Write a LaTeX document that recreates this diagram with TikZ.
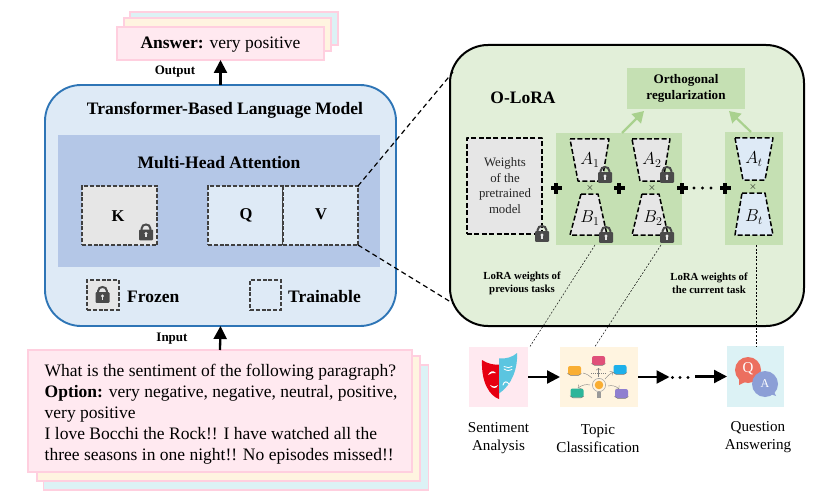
\documentclass[tikz,border=0pt]{standalone}
\usepackage{fontspec}
\setmainfont{Liberation Serif}
\usetikzlibrary{arrows.meta}
\definecolor{pinkf}{HTML}{FFE9F0}
\definecolor{pinkd}{HTML}{FFCFDF}
\definecolor{creamf}{HTML}{FFF4E0}
\definecolor{tealf}{HTML}{DCF2F5}
\definecolor{blueb}{HTML}{DEEAF6}
\definecolor{bluel}{HTML}{2E75B6}
\definecolor{bluem}{HTML}{B4C7E7}
\definecolor{greyf}{HTML}{E6E6E6}
\definecolor{darkd}{HTML}{404040}
\definecolor{greenb}{HTML}{E2EFD9}
\definecolor{greenm}{HTML}{C5E0B3}
\definecolor{greena}{HTML}{A9D18E}
\definecolor{lockc}{HTML}{4A4A4A}
\definecolor{maskr}{HTML}{E60012}
\definecolor{maskb}{HTML}{5BC5E0}
\definecolor{qred}{HTML}{EC6F5F}
\definecolor{qblue}{HTML}{8C9FD6}
\definecolor{bupink}{HTML}{E0507A}
\definecolor{bublue}{HTML}{1EB0EA}
\definecolor{buorange}{HTML}{F9AE33}
\definecolor{buteal}{HTML}{2DB59A}
\definecolor{bupurple}{HTML}{8F7FD0}
\tikzset{
  x=1pt,y=-1pt,
  box/.style={inner sep=0pt,outer sep=0pt,anchor=north west},
  paper/.style={draw=pinkd,line width=1.4pt},
  dbox/.style={draw=darkd,line width=1.5pt,dash pattern=on 4pt off 1.8pt},
  kbox/.style={draw=black,line width=1.5pt,dash pattern=on 5pt off 2.4pt,line join=round},
  zoomline/.style={draw=black,line width=1.2pt,dash pattern=on 5pt off 3.5pt},
  thinline/.style={draw=black,line width=0.45pt,dash pattern=on 2pt off 1.6pt},
  flow/.style={draw=black,line width=2.3pt,-{Triangle[length=13pt,width=13pt]}},
  upflow/.style={draw=black,line width=2.3pt,-{Triangle[length=13pt,width=13pt]}},
  greenflow/.style={draw=greena,line width=2.2pt,-{Triangle[length=11pt,width=13pt]}},
  lbl/.style={inner sep=0pt,font=\fontsize{13pt}{14pt}\selectfont\bfseries},
  small/.style={inner sep=0pt,align=center,font=\fontsize{10.8pt}{13.2pt}\selectfont\bfseries},
  title/.style={inner sep=0pt,font=\fontsize{17.5pt}{20pt}\selectfont\bfseries},
  key/.style={inner sep=0pt,font=\fontsize{16.5pt}{18pt}\selectfont\bfseries},
  task/.style={inner sep=0pt,align=center,font=\fontsize{15.1pt}{18pt}\selectfont},
  weights/.style={inner sep=0pt,align=center,font=\fontsize{12.8pt}{15.6pt}\selectfont,text=black!85},
  mathlbl/.style={inner sep=0pt,font=\fontsize{17pt}{18pt}\selectfont},
  timeslbl/.style={inner sep=0pt,font=\fontsize{10pt}{10pt}\selectfont},
  lock/.pic={
    \fill[lockc,rounded corners=1pt] (-7,-2.5) rectangle (7,8.3);
    \draw[lockc,line width=2pt] (-4.4,-2) -- (-4.4,-3.5) .. controls (-4.4,-8.8) and (4.4,-8.8) .. (4.4,-3.5) -- (4.4,-2);
    \fill[greyf] (0,1.5) circle (1.7);
    \fill[greyf] (-0.8,1.5) rectangle (0.8,5);
  },
  bubble/.pic={
    \fill[rounded corners=2pt,pic actions] (-6.5,-4.5) rectangle (6.5,4.5);
    \draw[black!55,line width=0.4pt,rounded corners=2pt] (-6.5,3.5) -- (-6,4.9) -- (6,4.9) -- (6.9,3);
  },
}
\begin{document}
\begin{tikzpicture}
\useasboundingbox (0,0) rectangle (830,500);
% output stack
\node[box,paper,fill=tealf,minimum width=208pt,minimum height=33pt] (ansc) at (130,12) {};
\node[box,paper,fill=creamf,minimum width=207pt,minimum height=33pt] (ansb) at (124,18) {};
\node[box,paper,fill=pinkf,minimum width=207pt,minimum height=33pt] (ansa) at (117,27) {};
\node[inner sep=0pt,font=\fontsize{17.5pt}{20pt}\selectfont] (anstext) at (220.5,45) {\textbf{Answer:} very positive};
% model
\node[box,draw=bluel,line width=1.9pt,fill=blueb,rounded corners=36pt,minimum width=351pt,minimum height=241pt] (model) at (45,85) {};
\node[title] (modeltitle) at (225,110) {Transformer-Based Language Model};
\node[box,fill=bluem,minimum width=322pt,minimum height=132pt] (mha) at (58,135) {};
\node[title] (mhatitle) at (219,163) {Multi-Head Attention};
\node[box,dbox,fill=greyf,minimum width=75pt,minimum height=59pt] (K) at (82,186) {};
\node[key] (Kt) at (118,216) {K};
\node[box,dbox,fill=blueb,minimum width=75pt,minimum height=59pt] (Q) at (208,186) {};
\node[box,dbox,fill=blueb,minimum width=75pt,minimum height=59pt] (V) at (283,186) {};
\node[key] (Qt) at (246,215) {Q};
\node[key] (Vt) at (321,214) {V};
\pic at (146,232) {lock};
\node[box,dbox,fill=greyf,minimum width=32pt,minimum height=30pt] (frozenbox) at (87,280) {};
\pic at (102.5,294.5) {lock};
\node[title,anchor=west] (frozen) at (127,297) {Frozen};
\node[box,dbox,minimum width=31pt,minimum height=30pt] (trainbox) at (250,280) {};
\node[title,anchor=west] (trainable) at (288,297) {Trainable};
% flow labels
\node[lbl] (outlbl) at (175,72) {Output};
\node[lbl] (inlbl) at (172,339) {Input};
% input stack
\node[box,paper,fill=tealf,minimum width=385pt,minimum height=125pt] (inc) at (43.5,365) {};
\node[box,paper,fill=creamf,minimum width=383pt,minimum height=125pt] (inb) at (37,356) {};
\node[box,paper,fill=pinkf,minimum width=384pt,minimum height=122pt] (ina) at (28,350) {};
\node[inner sep=0pt,anchor=north west,align=left,font=\fontsize{17.5pt}{21pt}\selectfont] (intext) at (44.5,364) {What is the sentiment of the following paragraph?\\ \textbf{Option:} very negative, negative, neutral, positive,\\ very positive\\ I love Bocchi the Rock!! I have watched all the\\ three seasons in one night!! No episodes missed!!};
\draw[upflow] (model.north) -- (ansa.south);
\draw[upflow] (ina.north) -- (model.south);
% O-LoRA
\node[box,draw=black,line width=2pt,fill=greenb,rounded corners=38pt,minimum width=354pt,minimum height=281pt] (olora) at (450,45) {};
\coordinate (olt) at (453,72);
\coordinate (olb) at (454,304);
\draw[zoomline] (V.north east) -- (olt);
\draw[zoomline] (V.south east) -- (olb);
\node[inner sep=0pt,font=\fontsize{17.5pt}{20pt}\selectfont\bfseries] (oltitle) at (523,98) {O-LoRA};
\node[box,fill=greenm,minimum width=118pt,minimum height=41pt] (orth) at (627,68) {};
\node[inner sep=0pt,align=center,font=\fontsize{13.1pt}{16pt}\selectfont\bfseries] (ortht) at (686,88.5) {Orthogonal\\regularization};
\node[box,fill=greenm,minimum width=126pt,minimum height=112pt] (prev) at (556,133) {};
\node[box,fill=greenm,minimum width=58pt,minimum height=113pt] (curr) at (725,132) {};
\coordinate (ga1) at (622,133);
\coordinate (ga2) at (644,111);
\coordinate (gb1) at (751,132);
\coordinate (gb2) at (729,111);
\draw[greenflow] (ga1) -- (ga2);
\draw[greenflow] (gb1) -- (gb2);
\node[box,kbox,fill=greyf,minimum width=75pt,minimum height=96pt] (pre) at (467,138) {};
\node[weights] (pret) at (505,185.5) {Weights\\of the\\pretrained\\model};
% trapezoids
\draw[kbox,fill=greyf] (570,139) -- (609,139) -- (602,181) -- (578,181) -- cycle;
\draw[kbox,fill=greyf] (581,194) -- (598,194) -- (607,235) -- (570,235) -- cycle;
\draw[kbox,fill=greyf] (632,139) -- (670,139) -- (663,181) -- (640,181) -- cycle;
\draw[kbox,fill=greyf] (642,194) -- (659,194) -- (668,235) -- (632,235) -- cycle;
\draw[kbox,fill=blueb] (735,138) -- (773,138) -- (765,180) -- (743,180) -- cycle;
\draw[kbox,fill=blueb] (742,193) -- (765,193) -- (773,235) -- (735,235) -- cycle;
\node[mathlbl] (a1) at (590,160) {$A_1$};
\node[mathlbl] (b1) at (590,218) {$B_1$};
\node[mathlbl] (a2) at (652,160) {$A_2$};
\node[mathlbl] (b2) at (653,218) {$B_2$};
\node[mathlbl] (at) at (754,159) {$A_t$};
\node[mathlbl] (bt) at (754,217) {$B_t$};
\node[timeslbl] (x1) at (590,188) {$\times$};
\node[timeslbl] (x2) at (652,188) {$\times$};
\node[timeslbl] (x3) at (753,187) {$\times$};
\foreach \px in {556,619,682,725}{
  \fill (\px-5.5,186.2) rectangle (\px+5.5,190);
  \fill (\px-1.9,182.5) rectangle (\px+1.9,193.5);
}
\foreach \px in {694,702.5,711}{\fill (\px,188) circle (1.7);}
\pic at (605,174.5) {lock};
\pic at (667,174.5) {lock};
\pic at (606,234.5) {lock};
\pic at (667,234.5) {lock};
\pic at (542,233.5) {lock};
\node[small] (lw1) at (522,283.5) {LoRA weights of\\previous tasks};
\node[small] (lw2) at (709,283.5) {LoRA weights of\\the current task};
% tasks
\node[box,fill=pinkf,minimum width=59pt,minimum height=60pt] (t1) at (469,347) {};
\node[box,fill=creamf,minimum width=78pt,minimum height=60pt] (t2) at (560,347) {};
\node[box,fill=tealf,minimum width=57pt,minimum height=61pt] (t3) at (727,346) {};
\coordinate (lf1) at (595,245);
\coordinate (lf2) at (661,245);
\coordinate (lf3) at (756,245);
\coordinate (t1c) at (530,346.5);
\coordinate (t2c) at (595,346.5);
\coordinate (t3c) at (756,346);
\draw[thinline] (lf1) -- (t1c);
\draw[thinline] (lf2) -- (t2c);
\draw[thinline] (lf3) -- (t3c);
\coordinate (dl) at (669.5,377);
\coordinate (dr) at (695,376.5);
\draw[flow] (t1.east) -- (t2.west);
\draw[flow] (t2.east) -- (dl);
\foreach \px in {672.5,680,688}{\fill (\px,377.5) circle (1.7);}
\draw[flow] (dr) -- (t3.west);
\node[task] (t1t) at (498.5,438) {Sentiment\\Analysis};
\node[task] (t2t) at (598,438.5) {Topic\\Classification};
\node[task] (t3t) at (758,437) {Question\\Answering};
% masks
\fill[maskr] (482,360) .. controls (488,364) and (494,365) .. (499,364.5) -- (499,399) .. controls (490,396) and (481,383) .. (482,360) -- cycle;
\fill[maskb] (499,358.5) .. controls (506,359) and (513,357) .. (517,353) .. controls (518,368) and (512,385) .. (499,393.5) -- cycle;
\fill[white] (488,375) .. controls (490,371) and (493,370) .. (496,373) .. controls (493,372.5) and (491,373) .. (488,375) -- cycle;
\fill[white] (490,385) .. controls (492,387) and (495,387) .. (498,385) .. controls (497,389) and (492,389) .. (490,385) -- cycle;
\draw[white,line width=0.8pt,line cap=round] (504,366.5) .. controls (507,368) and (510,368) .. (512,366.5);
\draw[white,line width=0.8pt,line cap=round] (504,369) .. controls (507,371) and (510,371) .. (512,369.5);
\draw[white,line width=1pt,line cap=round] (503,385) .. controls (504,381) and (507,381) .. (509,384);
% topic icon
\pic[fill=bupink] at (598.5,360.5) {bubble};
\pic[fill=bublue] at (620,369.5) {bubble};
\pic[fill=buorange] at (574.5,370.5) {bubble};
\pic[fill=buteal] at (577,393) {bubble};
\pic[fill=bupurple] at (621.5,393.5) {bubble};
\fill[buorange] (599,385) circle (4.3);
\draw[black!35,line width=0.6pt] (599,385) circle (6.6);
\fill[black!40] (597,392) rectangle (601,398);
\draw[black!50,line width=0.4pt,dash pattern=on 1pt off 1pt] (591,373.5) -- (607,373.5);
\draw[black!50,line width=0.4pt,->] (598.5,377) -- (598.5,368);
\draw[black!50,line width=0.4pt,->] (605,379) .. controls (607,376) and (610,374) .. (613,372);
\draw[black!50,line width=0.4pt] (592,378) .. controls (590,376) and (587,374) .. (583,373);
\draw[black!50,line width=0.4pt,->] (590,385) .. controls (586,384) and (582,385) .. (578,388);
\draw[black!50,line width=0.4pt,->] (608,386) .. controls (612,385) and (616,386) .. (619,389);
% QA icon
\fill[qred] (748,370) circle (13);
\fill[qred] (739,378) -- (745,382) -- (739,385) -- cycle;
\fill[qblue] (765,384) circle (13);
\fill[qblue] (770,394) -- (776,396) -- (773,390) -- cycle;
\node[inner sep=0pt,text=white,font=\fontsize{15pt}{16pt}\selectfont] (qq) at (748,369) {Q};
\node[inner sep=0pt,text=white,font=\fontsize{12pt}{13pt}\selectfont] (aa) at (765,384) {A};
\end{tikzpicture}
\end{document}
